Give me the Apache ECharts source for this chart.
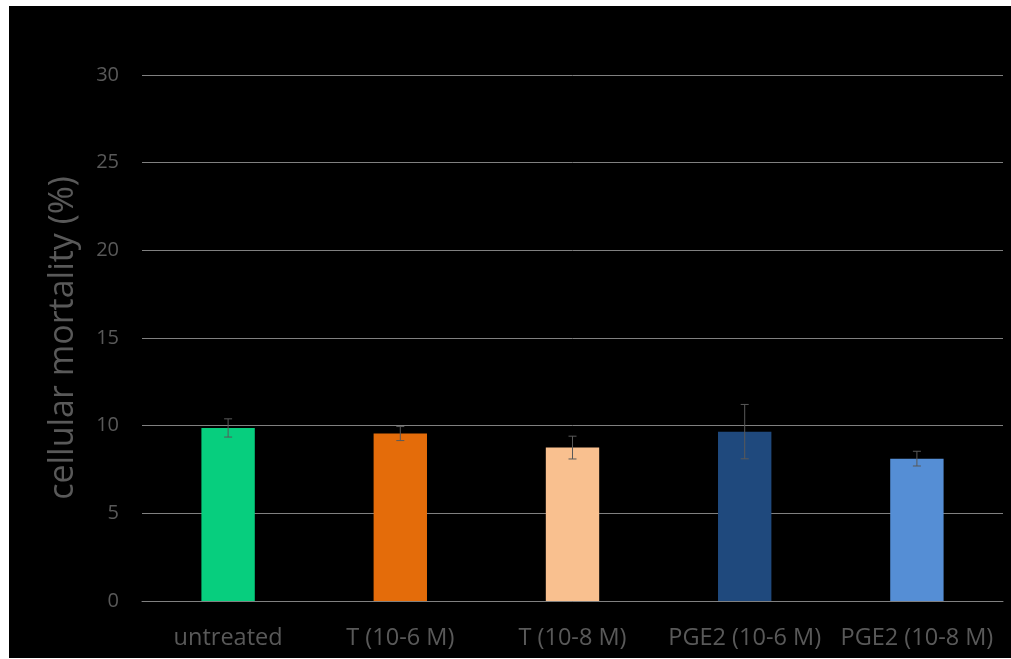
<!DOCTYPE html>
<html><head><meta charset="utf-8">
<script src="https://cdn.jsdelivr.net/npm/echarts@6/dist/echarts.min.js"></script>
<style>
html,body{margin:0;padding:0;background:#fff;width:1011px;height:659px;overflow:hidden}
#c{position:absolute;left:9px;top:6px;width:1002px;height:652px;background:#000}
</style></head>
<body><div id="c"></div>
<script>
const categories = ["untreated", "T (10-6 M)", "T (10-8 M)", "PGE2 (10-6 M)", "PGE2 (10-8 M)"];
const values = [9.87, 9.55, 8.75, 9.66, 8.12];
const errors = [0.52, 0.40, 0.65, 1.55, 0.42];
const colors = ["#07CE7E", "#E46C0A", "#F9C08F", "#1F497D", "#558ED5"];
const yTicks = [0, 5, 10, 15, 20, 25, 30];

const chart = echarts.init(document.getElementById('c'), null, {renderer: 'canvas'});
const fontFam = '"Open Sans", "Noto Sans", sans-serif';
chart.setOption({
  backgroundColor: '#000',
  animation: false,
  grid: {left: 133, right: 8, top: 69, bottom: 57},
  xAxis: {
    type: 'category', data: categories,
    axisLine: {lineStyle: {color: '#808080', width: 1}},
    axisTick: {show: false},
    axisLabel: {color: '#595959', fontSize: 23.5, fontFamily: fontFam, margin: 25, interval: 0}
  },
  yAxis: {
    type: 'value', min: yTicks[0], max: yTicks[yTicks.length - 1], interval: 5,
    name: 'cellular mortality (%)', nameLocation: 'middle', nameGap: 62,
    nameTextStyle: {color: '#595959', fontSize: 34, fontFamily: fontFam},
    axisLine: {show: false}, axisTick: {show: false},
    axisLabel: {color: '#595959', fontSize: 20, fontFamily: fontFam, margin: 23},
    splitLine: {lineStyle: {color: '#808080', width: 1}}
  },
  series: [
    {
      type: 'bar', barWidth: '31%',
      data: values.map((v, i) => ({value: v, itemStyle: {color: colors[i]}})),
      z: 2
    },
    {
      type: 'custom', z: 3,
      data: values.map((v, i) => [i, v - errors[i], v + errors[i]]),
      renderItem: function (params, api) {
        const lo = api.coord([api.value(0), api.value(1)]);
        const hi = api.coord([api.value(0), api.value(2)]);
        const w = 4;
        const st = {stroke: '#595959', lineWidth: 1};
        return {type: 'group', children: [
          {type: 'line', shape: {x1: hi[0], y1: hi[1], x2: lo[0], y2: lo[1]}, style: st},
          {type: 'line', shape: {x1: hi[0] - w, y1: hi[1], x2: hi[0] + w, y2: hi[1]}, style: st},
          {type: 'line', shape: {x1: lo[0] - w, y1: lo[1], x2: lo[0] + w, y2: lo[1]}, style: st}
        ]};
      }
    }
  ]
});
</script></body></html>
